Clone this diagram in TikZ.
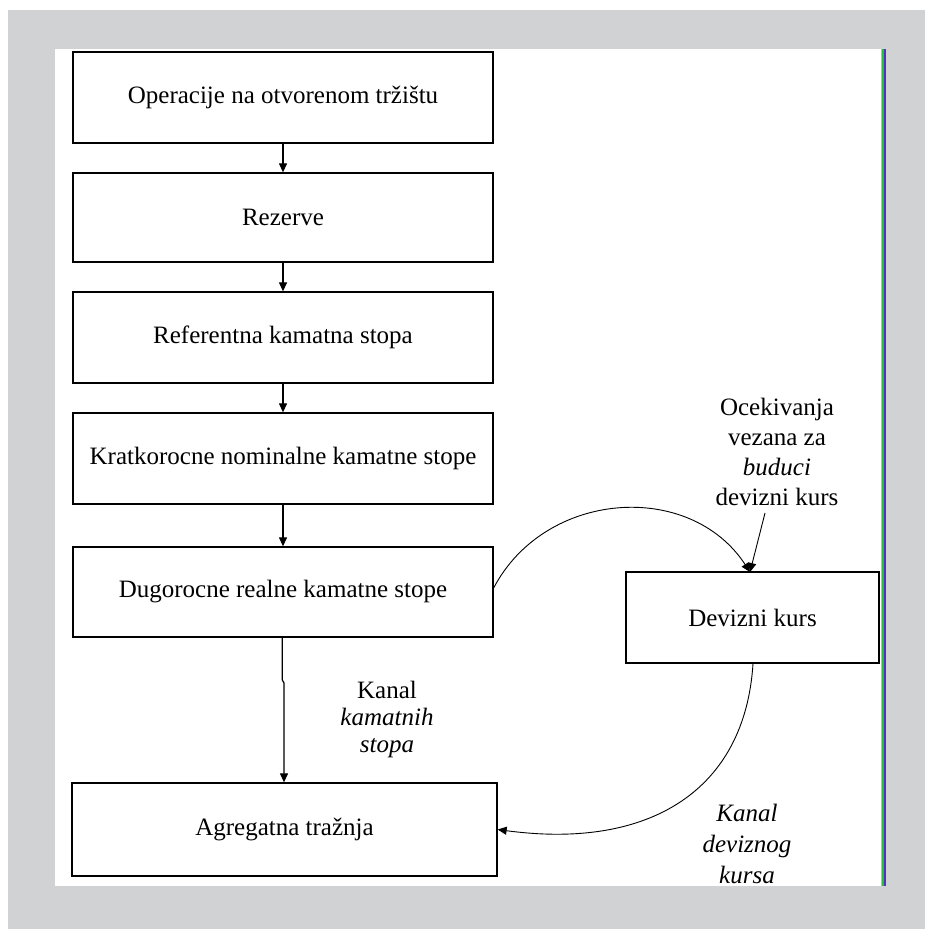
\documentclass[tikz,border=0pt]{standalone}
\usepackage{fontspec}
\setmainfont{Liberation Serif}
\usetikzlibrary{arrows.meta}
\definecolor{bggray}{RGB}{209,210,212}
\definecolor{edgelg}{RGB}{130,225,130}
\definecolor{edgeg}{RGB}{40,190,60}
\definecolor{edgep}{RGB}{85,50,190}
\begin{document}
\begin{tikzpicture}[x=1pt,y=-1pt,
  box/.style={draw=black, line width=1.3pt, minimum width=420pt, minimum height=91pt, inner sep=0pt, font=\fontsize{25}{30}\selectfont},
  arr/.style={line width=1.2pt, -{Triangle[length=9pt,width=8pt]}},
  curv/.style={line width=0.9pt, -{Triangle[length=9pt,width=8pt]}},
  lbl/.style={align=center, inner sep=0pt}]
\useasboundingbox (0,0) rectangle (925,929);
\fill[white] (0,0) rectangle (925,929);
\fill[bggray] (8,10) rectangle (925,929);
\fill[white] (55,49) rectangle (881,886);
\fill[edgelg] (881,49) rectangle (882.3,886);
\fill[edgeg] (882.3,49) rectangle (883.7,886);
\fill[edgep] (883.7,49) rectangle (885.7,886);

\node[box] (b1) at (283,97.5) {Operacije na otvorenom tržištu};
\node[box, minimum height=89pt] (b2) at (283,217.5) {Rezerve};
\node[box] (b3) at (283,337.5) {Referentna kamatna stopa};
\node[box] (b4) at (283,458.5) {Kratkorocne nominalne kamatne stope};
\node[box, minimum height=90pt] (b5) at (283,592) {Dugorocne realne kamatne stope};
\node[box, minimum width=425pt, minimum height=93pt] (b6) at (284.5,829.5) {Agregatna tražnja};
\node[box, minimum width=253pt] (dv) at (752.5,617.5) {Devizni kurs};

\node[lbl, font=\fontsize{25}{30}\selectfont] (oc) at (777,452) {Ocekivanja\\vezana za\\\textit{buduci}\\devizni kurs};
\node[lbl, font=\fontsize{25}{27}\selectfont] (kk) at (387,719) {Kanal\\\textit{kamatnih}\\\textit{stopa}};
\node[lbl, font=\fontsize{25}{31}\selectfont\itshape] (kd) at (747,844) {Kanal\\deviznog\\kursa};

\draw[arr] (b1.south) -- (b2.north);
\draw[arr] (b2.south) -- (b3.north);
\draw[arr] (b3.south) -- (b4.north);
\draw[arr] (b4.south) -- (b5.north);
\coordinate (j1) at (282.3,680);
\coordinate (j2) at (284,683);
\draw[arr] (b5.south -| j1) -- (j1) -- (j2) -- (b6.north -| j2);

\coordinate (ocb) at (765,513);
\coordinate (dvt) at (750,572);
\draw[curv] ([yshift=4pt]b5.east) .. controls (545,490) and (690,480) .. (dvt);
\draw[curv] (ocb) -- (dvt);
\draw[curv] (dv.south -| 753,0) .. controls (745,790) and (650,850) .. (b6.east);

\fill[bggray] (8,886) rectangle (925,929);
\end{tikzpicture}
\end{document}
